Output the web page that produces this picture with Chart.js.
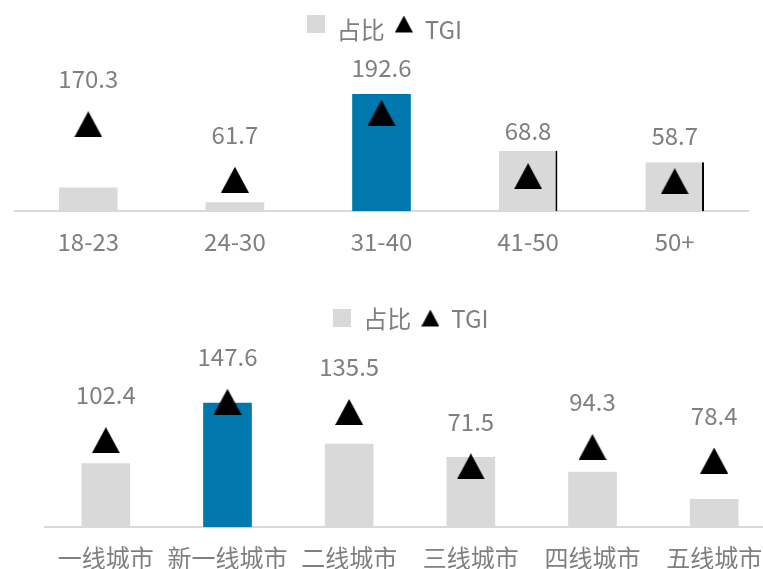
<!DOCTYPE html>
<html>
<head>
<meta charset="utf-8">
<script src="https://cdn.jsdelivr.net/npm/chart.js@4"></script>
<style>
html,body{margin:0;padding:0;background:#fff;width:763px;height:569px;overflow:hidden;position:relative}
#ageChart{position:absolute;left:0;top:0}
#cityChart{position:absolute;left:0;top:289px}
</style>
</head>
<body>
<canvas id="ageChart" width="763" height="272"></canvas>
<canvas id="cityChart" width="790" height="299"></canvas>
<script>
// age groups
const ageLabels=["18-23","24-30","31-40","41-50","50+"];
const ageShare=[9.1,3.5,45.2,23.3,18.9];
const ageTGI=[170.3,61.7,192.6,68.8,58.7];

// city tiers
const cityLabels=["一线城市","新一线城市","二线城市","三线城市","四线城市","五线城市"];
const cityShare=[15.0,29.2,19.6,16.5,13.0,6.6];
const cityTGI=[102.4,147.6,135.5,71.5,94.3,78.4];

const GREY="#d9d9d9",BLUE="#0078ae",TEXT="#7f7f7f";
const FONT="'Noto Sans CJK SC','Noto Sans',sans-serif";
const SIZE=24;

Chart.defaults.font.family=FONT;
Chart.defaults.font.size=SIZE;
Chart.defaults.color=TEXT;

// marker shapes drawn on small canvases; lift moves the shape up inside its box
function triangle(w,h,lift){
const c=document.createElement("canvas");
c.width=w;c.height=h+lift*2;
const g=c.getContext("2d");
g.fillStyle="#000";
g.beginPath();
g.moveTo(w/2,0);g.lineTo(w,h);g.lineTo(0,h);g.closePath();
g.fill();
return c;
}
function square(s,lift){
const c=document.createElement("canvas");
c.width=s;c.height=s+lift*2;
const g=c.getContext("2d");
g.fillStyle=GREY;
g.fillRect(0,0,s,s);
return c;
}

const marker=triangle(28,26,0);

// TGI value written above each triangle
const tgiLabels={
id:"tgiLabels",
afterDatasetsDraw(chart){
const ctx=chart.ctx;
chart.data.datasets.forEach((ds,i)=>{
if(ds.type!=="line")return;
const meta=chart.getDatasetMeta(i);
ctx.save();
ctx.font=SIZE+"px "+FONT;
ctx.fillStyle=TEXT;
ctx.textAlign="center";
ctx.textBaseline="middle";
meta.data.forEach((pt,j)=>ctx.fillText(ds.data[j].toFixed(1),pt.x,pt.y-45));
ctx.restore();
});
}
};

function makeChart(id,labels,share,tgi,o){
const legendSquare=square(18,o.lift);
const legendTri=triangle(18,17,o.lift);
return new Chart(document.getElementById(id),{
data:{
labels:labels,
datasets:[{
type:"bar",
label:"占比",
data:share,
yAxisID:"y",
order:1,
backgroundColor:labels.map((_,i)=>i===o.highlight?BLUE:GREY),
borderColor:"#000",
borderWidth:c=>o.edged.includes(c.dataIndex)?{top:0,left:0,bottom:0,right:2}:0,
barPercentage:0.4,
categoryPercentage:1
},{
type:"line",
label:"TGI",
data:tgi,
yAxisID:"y2",
order:0,
showLine:false,
pointStyle:marker,
pointRadius:14,
pointHoverRadius:14,
clip:false
}]
},
options:{
responsive:false,
animation:false,
layout:{padding:{top:8,left:o.padLeft,right:o.padRight,bottom:0}},
plugins:{
tooltip:{enabled:false},
legend:{
position:"top",
labels:{
usePointStyle:true,
boxWidth:18,
boxHeight:18,
padding:10,
color:TEXT,
font:{size:SIZE},
generateLabels:chart=>[
{text:"占比",pointStyle:legendSquare,fillStyle:GREY,strokeStyle:GREY,fontColor:TEXT,lineWidth:0,hidden:false,datasetIndex:0},
{text:"TGI",pointStyle:legendTri,fillStyle:"#000",strokeStyle:"#000",fontColor:TEXT,lineWidth:0,hidden:false,datasetIndex:1}
]
}
}
},
scales:{
x:{
grid:{display:false,drawTicks:false},
border:{display:true,color:"#d9d9d9",width:2},
ticks:{padding:16,color:TEXT,font:{size:SIZE},maxRotation:0,autoSkip:false}
},
y:{display:false,min:0,max:o.shareMax},
y2:{display:false,min:0,max:o.tgiMax,position:"right"}
}
},
plugins:[tgiLabels]
});
}

makeChart("ageChart",ageLabels,ageShare,ageTGI,{
highlight:2,edged:[3,4],lift:6,padLeft:12,padRight:6,shareMax:61.4,tgiMax:312
});
makeChart("cityChart",cityLabels,cityShare,cityTGI,{
highlight:1,edged:[],lift:1,padLeft:45,padRight:13,shareMax:43.7,tgiMax:219
});
</script>
</body>
</html>
